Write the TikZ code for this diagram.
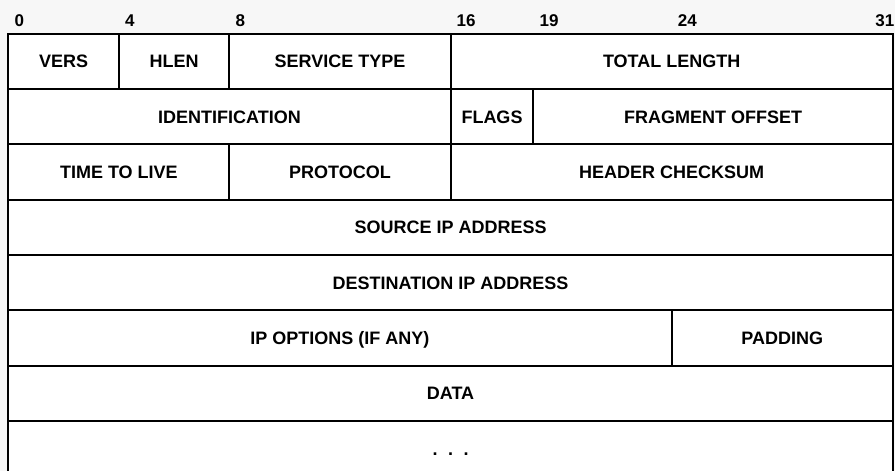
\documentclass[tikz,border=0pt]{standalone}
\usepackage{fontspec}
\setmainfont{Liberation Sans}
\usetikzlibrary{positioning}

\definecolor{pagegray}{RGB}{247,247,247}
\newcommand{\bitw}{27.64pt}

\begin{document}
\begin{tikzpicture}[x=27.64pt, y=-55.36pt,
    field/.style={draw, line width=2pt, fill=white, outer sep=0pt, inner sep=0pt,
      minimum width={#1*\bitw}, minimum height=55.36pt, text height=13pt, text depth=0pt,
      font=\fontsize{18}{20}\selectfont\bfseries},
    bitnum/.style={anchor=base west, inner sep=0pt, xshift=6pt, yshift=7.5pt,
      font=\fontsize{17}{19}\selectfont\bfseries}]

  % page and its margins
  \fill[pagegray] (-8.3pt,33.5pt) rectangle (886.7pt,-437.5pt);
  \useasboundingbox (-8.3pt,33.5pt) rectangle (886.7pt,-437.5pt);

  % bit numbers
  \node[bitnum] (n0)  at (0,0)    {0};
  \node[bitnum] (n4)  at (4,0)    {4};
  \node[bitnum] (n8)  at (8,0)    {8};
  \node[bitnum] (n16) at (16,0)   {16};
  \node[bitnum] (n19) at (19,0)   {19};
  \node[bitnum] (n24) at (24,0)   {24};
  \node[bitnum] (n31) at (31.15,0) {31};

  % header fields
  \node[field=4, anchor=north west] (vers) at (0,0) {VERS};
  \node[field=4, right=0pt of vers]   (hlen)  {HLEN};
  \node[field=8, right=0pt of hlen]   (stype) {SERVICE TYPE};
  \node[field=16, right=0pt of stype] (tlen)  {TOTAL LENGTH};

  \node[field=16, below=0pt of vers.south west, anchor=north west] (ident) {IDENTIFICATION};
  \node[field=3, right=0pt of ident]  (flags)   {FLAGS};
  \node[field=13, right=0pt of flags] (fragoff) {FRAGMENT OFFSET};

  \node[field=8, below=0pt of ident.south west, anchor=north west] (ttl) {TIME TO LIVE};
  \node[field=8, right=0pt of ttl]    (proto)  {PROTOCOL};
  \node[field=16, right=0pt of proto] (hcksum) {HEADER CHECKSUM};

  \node[field=32, below=0pt of ttl.south west, anchor=north west]   (srcip) {SOURCE IP ADDRESS};
  \node[field=32, below=0pt of srcip.south west, anchor=north west] (dstip) {DESTINATION IP ADDRESS};

  \node[field=24, below=0pt of dstip.south west, anchor=north west] (ipopt) {IP OPTIONS (IF ANY)};
  \node[field=8, right=0pt of ipopt] (padding) {PADDING};

  \node[field=32, below=0pt of ipopt.south west, anchor=north west] (data) {DATA};
  \node[field=32, below=0pt of data.south west, anchor=north west]  (more) {.\hspace{10.5pt}.\hspace{10.5pt}.};
\end{tikzpicture}
\end{document}
